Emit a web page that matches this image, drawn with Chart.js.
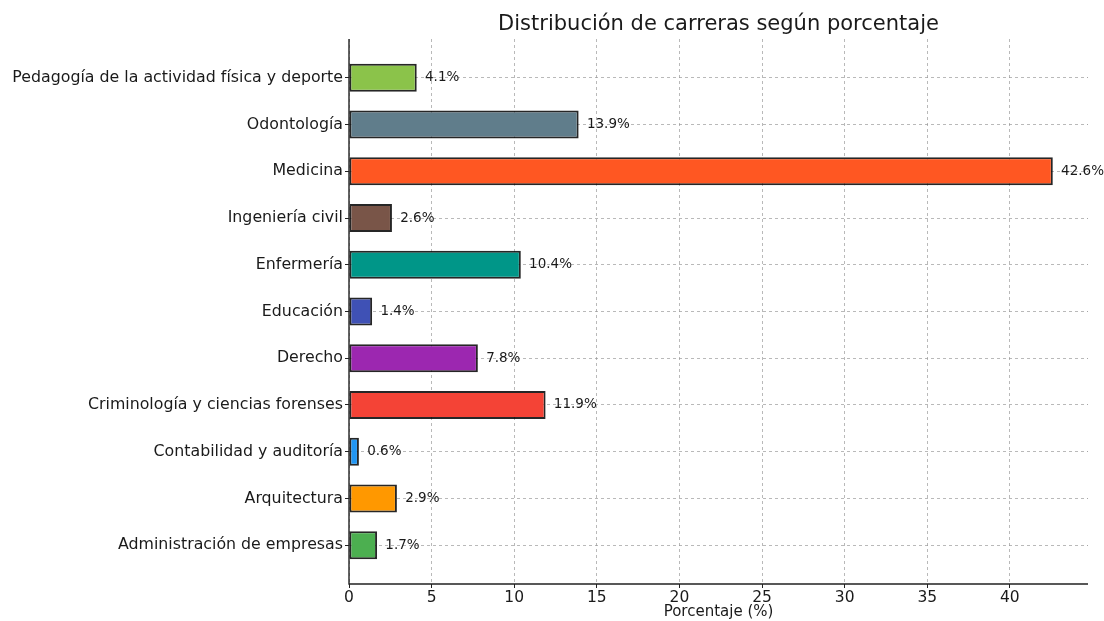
<!DOCTYPE html>
<html>
<head>
<meta charset="utf-8">
<script src="https://cdn.jsdelivr.net/npm/chart.js@4.4.1/dist/chart.umd.min.js"></script>
<style>
  html,body{margin:0;padding:0;background:#fff;}
  #wrap{width:1104px;height:621px;}
</style>
</head>
<body>
<div id="wrap"><canvas id="c" width="1104" height="621"></canvas></div>
<script>
// ----- data (bottom to top, as matplotlib barh) -----
const carreras = [
  'Administración de empresas',
  'Arquitectura',
  'Contabilidad y auditoría',
  'Criminología y ciencias forenses',
  'Derecho',
  'Educación',
  'Enfermería',
  'Ingeniería civil',
  'Medicina',
  'Odontología',
  'Pedagogía de la actividad física y deporte',
];
const porcentajes = [1.7, 2.9, 0.6, 11.9, 7.8, 1.4, 10.4, 2.6, 42.6, 13.9, 4.1];
const colores = ['#4CAF50','#FF9800','#2196F3','#F44336','#9C27B0','#3F51B5',
                 '#009688','#795548','#FF5722','#607D8B','#8BC34A'];
const xTicks = [0, 5, 10, 15, 20, 25, 30, 35, 40];

const FONT = 'DejaVu Sans';
const GRID = 'rgba(150,150,150,0.85)';

// spines, value labels + title, drawn after bars
const extras = {
  id: 'extras',
  afterDraw(chart){
    const ctx = chart.ctx, xs = chart.scales.x, ys = chart.scales.y;
    const a = chart.chartArea;
    ctx.save();
    // left + bottom spines (solid)
    ctx.strokeStyle = '#222';
    ctx.lineWidth = 1.4;
    ctx.setLineDash([]);
    ctx.beginPath();
    ctx.moveTo(a.left, a.top);
    ctx.lineTo(a.left, a.bottom);
    ctx.lineTo(a.right, a.bottom);
    ctx.stroke();

    ctx.fillStyle = '#1a1a1a';
    ctx.font = `13.5px "${FONT}"`;
    ctx.textAlign = 'left';
    ctx.textBaseline = 'middle';
    porcentajes.forEach((v,i) => {
      ctx.fillText(v.toFixed(1)+'%', xs.getPixelForValue(v+0.5), ys.getPixelForValue(i));
    });
    ctx.font = `21px "${FONT}"`;
    ctx.textAlign = 'center';
    ctx.fillText('Distribución de carreras según porcentaje', (a.left+a.right)/2, 25);
    ctx.restore();
  }
};

new Chart(document.getElementById('c'), {
  type: 'bar',
  data: {
    datasets: [{
      data: porcentajes.map((v,i) => ({x: v, y: i})),
      backgroundColor: colores,
      borderColor: 'rgba(0,0,0,0.85)',
      borderWidth: 2,
      borderSkipped: false,
      barPercentage: 0.6,
      categoryPercentage: 1,
    }]
  },
  options: {
    indexAxis: 'y',
    responsive: false,
    animation: false,
    layout: {padding: {top: 39, right: 16, left: 0, bottom: 0}},
    plugins: {legend: {display: false}, tooltip: {enabled: false}},
    scales: {
      x: {
        type: 'linear', min: 0, max: 44.73, z: 1, offset: false,
        afterBuildTicks: s => { s.ticks = xTicks.map(v => ({value: v})); },
        afterFit: s => { s.height = 37; },
        border: {display: false, dash: [3,3]},
        grid: {color: GRID, lineWidth: 0.8, tickLength: 4, offset: false,
               tickColor: '#222', tickBorderDash: [], tickWidth: 1},
        ticks: {color: '#1a1a1a', font: {family: FONT, size: 15.5}, padding: 1},
        title: {display: true, text: 'Porcentaje (%)', color: '#1a1a1a',
                font: {family: FONT, size: 15}, padding: {top: 0, bottom: 0}},
      },
      y: {
        type: 'linear', min: -0.83, max: 10.83, z: 1, offset: false,
        afterBuildTicks: s => { s.ticks = carreras.map((c,i) => ({value: i})); },
        afterFit: s => { s.width = 349; },
        border: {display: false, dash: [3,3]},
        grid: {color: GRID, lineWidth: 0.8, tickLength: 4, offset: false,
               tickColor: '#222', tickBorderDash: [], tickWidth: 1},
        ticks: {color: '#1a1a1a', font: {family: FONT, size: 15.8}, padding: 2,
                callback: v => carreras[v]},
      }
    }
  },
  plugins: [extras]
});
</script>
</body>
</html>
